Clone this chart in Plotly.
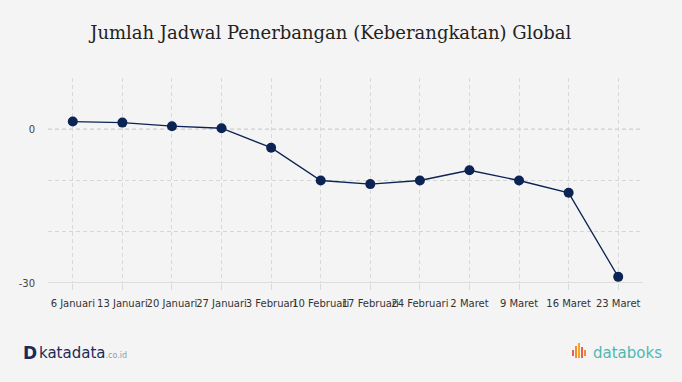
import plotly.graph_objects as go

categories = ["6 Januari", "13 Januari", "20 Januari", "27 Januari", "3 Februari",
              "10 Februari", "17 Februari", "24 Februari", "2 Maret", "9 Maret",
              "16 Maret", "23 Maret"]
values = [1.5, 1.3, 0.6, 0.2, -3.6, -10.0, -10.7, -10.0, -8.0, -10.0, -12.4, -28.8]
y_tickvals = [-30, -20, -10, 0, 10]
y_ticktext = ["-30", "", "", "0", ""]

navy = "#0c2454"
bg = "#f4f4f4"

fig = go.Figure()
fig.add_trace(go.Scatter(
    x=categories, y=values, mode="lines+markers",
    line=dict(color=navy, width=1.3),
    marker=dict(color=navy, size=10),
    hoverinfo="x+y", showlegend=False,
))

fig.update_layout(
    width=682, height=382,
    paper_bgcolor=bg, plot_bgcolor=bg,
    margin=dict(l=48, r=39, t=78, b=99),
    title=dict(text="Jumlah Jadwal Penerbangan (Keberangkatan) Global",
               x=0.485, xanchor="center", y=0.915, yanchor="middle",
               font=dict(family="DejaVu Serif", size=18, color="#222222")),
    xaxis=dict(type="category", range=[-0.5, 11.5],
               showgrid=True, gridcolor="#d9d9d9", griddash="4px,3px", gridwidth=1,
               ticks="outside", ticklen=6, tickcolor="#d9d9d9",
               ticklabelstandoff=5,
               tickangle=0, showline=False, zeroline=False,
               tickfont=dict(family="DejaVu Sans", size=10, color="#333333")),
    yaxis=dict(range=[-30, 10], tickvals=y_tickvals, ticktext=y_ticktext,
               showgrid=True, gridcolor="#d6d6d6", griddash="4px,3px", gridwidth=1,
               zeroline=False, showline=False,
               ticks="outside", ticklen=10, tickcolor="rgba(0,0,0,0)",
               tickfont=dict(family="DejaVu Sans", size=10, color="#444444")),
    shapes=[
        dict(type="line", xref="paper", yref="y", x0=0, x1=1, y0=0, y1=0,
             line=dict(color="#a8a8a8", width=1, dash="4px,3px"), layer="below"),
        dict(type="line", xref="paper", yref="y", x0=0, x1=1, y0=-30, y1=-30,
             line=dict(color="#d6d6d6", width=1.5), layer="below"),
    ],
)

# logos as text
fig.add_annotation(xref="paper", yref="paper", x=-0.045, y=-0.34, xanchor="left", yanchor="middle",
                   text="<b>D</b>", showarrow=False,
                   font=dict(family="DejaVu Sans", size=17, color="#1c2a5a"))
fig.add_annotation(xref="paper", yref="paper", x=-0.018, y=-0.34, xanchor="left", yanchor="middle",
                   text="katadata<span style='font-size:8px;color:#8aa0a8'>.co.id</span>", showarrow=False,
                   font=dict(family="DejaVu Sans", size=15, color="#1c2a5a"))
fig.add_annotation(xref="paper", yref="paper", x=1.035, y=-0.34, xanchor="right", yanchor="middle",
                   text="databoks", showarrow=False,
                   font=dict(family="DejaVu Sans", size=15, color="#4fb8b3"))
# small bar icon for databoks
bar_specs = [(573, 350, 356, "#e8604c"), (576, 346, 358, "#f08a3c"), (579, 343, 358, "#f5a623"),
             (582, 347, 358, "#e8604c"), (585, 350, 356, "#f08a3c")]
for bx, y0, y1, c in bar_specs:
    fig.add_shape(type="line", xref="paper", yref="paper",
                  x0=(bx - 48) / 595, x1=(bx - 48) / 595,
                  y0=(283 - y1) / 205, y1=(283 - y0) / 205,
                  line=dict(color=c, width=2))

fig.write_html("out.html", config={"displayModeBar": False},
               post_script="document.body.style.margin='0';")
